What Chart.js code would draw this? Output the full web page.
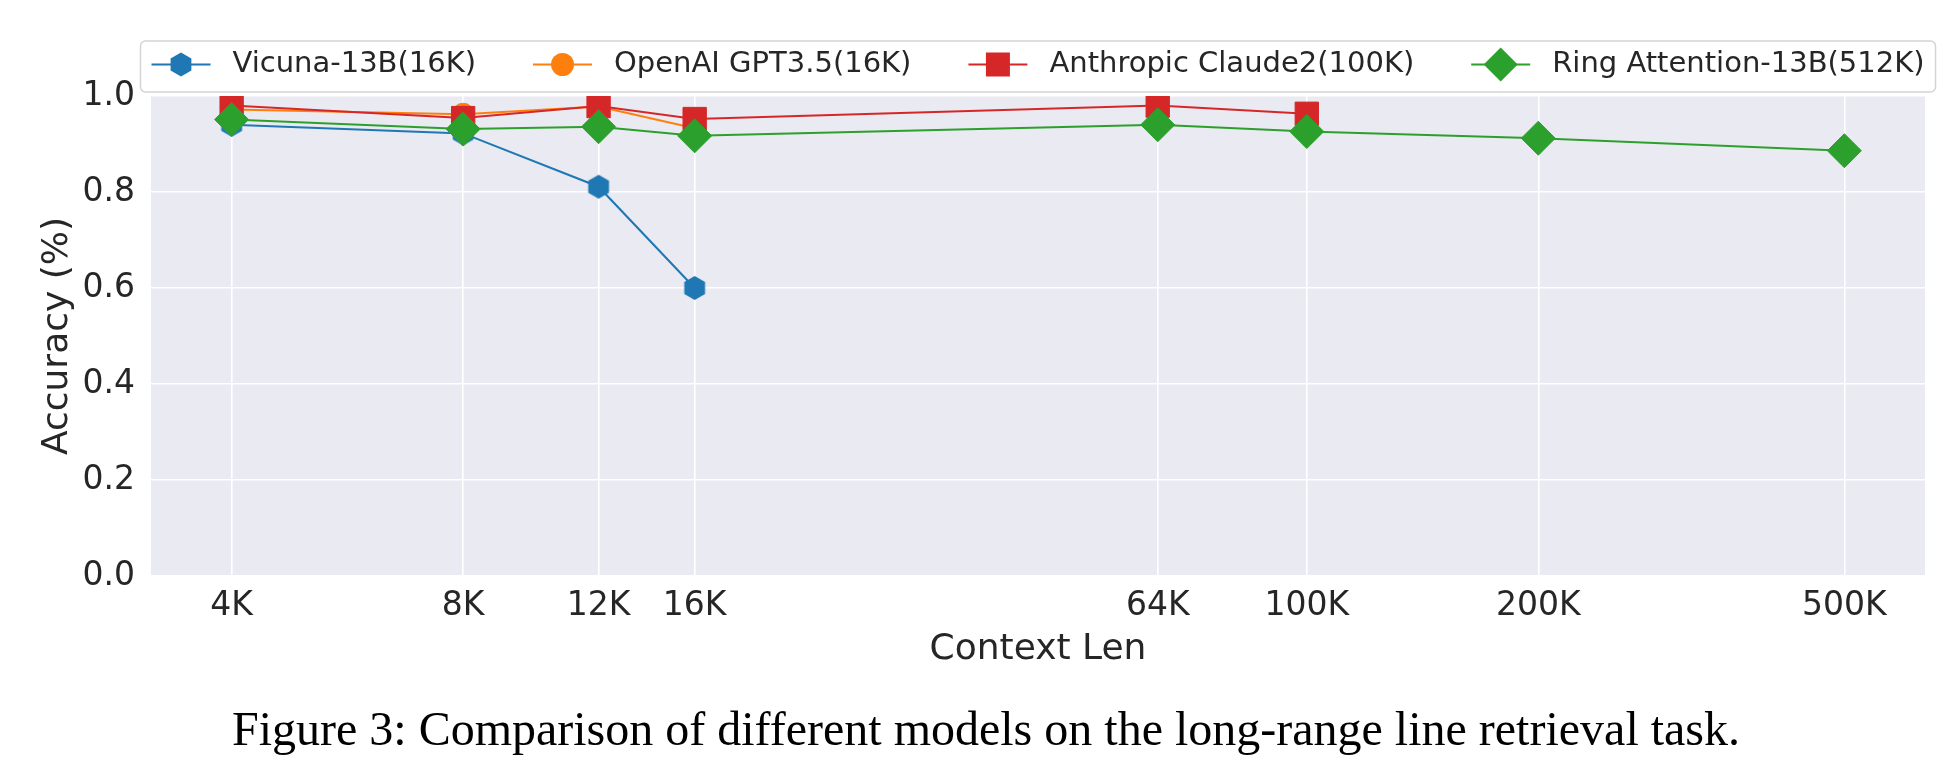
<!DOCTYPE html>
<html>
<head>
<meta charset="utf-8">
<script src="https://cdn.jsdelivr.net/npm/chart.js@4/dist/chart.umd.min.js"></script>
<style>
html, body { margin: 0; padding: 0; background: #ffffff; }
#wrap { width: 1958px; height: 776px; }
</style>
</head>
<body>
<div id="wrap"><canvas id="c" width="1958" height="776"></canvas></div>
<script>
// ---------------- data ----------------
const contextLengths = [4, 8, 12, 16, 64, 100, 200, 500];          // in K tokens
const xTickLabels = ['4K', '8K', '12K', '16K', '64K', '100K', '200K', '500K'];
const yTickValues = [0.0, 0.2, 0.4, 0.6, 0.8, 1.0];
const seriesNames = ['Vicuna-13B(16K)', 'OpenAI GPT3.5(16K)', 'Anthropic Claude2(100K)', 'Ring Attention-13B(512K)'];
const vicunaAcc = [0.940, 0.922, 0.811, 0.600];
const gptAcc = [0.972, 0.962, 0.978, 0.933];
const claudeAcc = [0.980, 0.954, 0.979, 0.952, 0.980, 0.963];
const ringAcc = [0.951, 0.931, 0.936, 0.917, 0.940, 0.926, 0.912, 0.886];
const xAxisTitle = 'Context Len';
const yAxisTitle = 'Accuracy (%)';
const captionText = 'Figure 3: Comparison of different models on the long-range line retrieval task.';

// ---------------- styles ----------------
const seriesColors = ['#1f77b4', '#ff7f0e', '#d62728', '#2ca02c'];
const markerKinds = ['hexagon', 'circle', 'square', 'diamond'];
const textColor = '#262626';
const FONT = '"DejaVu Sans", sans-serif';

function hexPath(ctx, cx, cy, r) {
  ctx.beginPath();
  for (let i = 0; i < 6; i++) {
    const a = -Math.PI / 2 + i * Math.PI / 3;
    const px = cx + r * Math.cos(a), py = cy + r * Math.sin(a);
    if (i === 0) ctx.moveTo(px, py); else ctx.lineTo(px, py);
  }
  ctx.closePath();
}
function makeHexagon(r, color) {
  const size = 26;
  const c = document.createElement('canvas');
  c.width = size; c.height = size;
  const ctx = c.getContext('2d');
  hexPath(ctx, size / 2, size / 2, r);
  ctx.fillStyle = color;
  ctx.fill();
  return c;
}
const hexImg = makeHexagon(12, seriesColors[0]);

function drawMarker(ctx, kind, x, y, color) {
  ctx.fillStyle = color;
  ctx.beginPath();
  if (kind === 'hexagon') { hexPath(ctx, x, y, 12); }
  else if (kind === 'circle') { ctx.arc(x, y, 11.5, 0, Math.PI * 2); }
  else if (kind === 'square') { ctx.rect(x - 12, y - 12, 24, 24); }
  else if (kind === 'diamond') { ctx.moveTo(x, y - 17); ctx.lineTo(x + 17, y); ctx.lineTo(x, y + 17); ctx.lineTo(x - 17, y); ctx.closePath(); }
  ctx.fill();
}

function pts(vals) { return vals.map((v, i) => ({ x: contextLengths[i], y: v })); }

const spanRatio = contextLengths[contextLengths.length - 1] / contextLengths[0];
const xMin = contextLengths[0] / Math.pow(spanRatio, 0.05);
const xMax = contextLengths[contextLengths.length - 1] * Math.pow(spanRatio, 0.05);

// ---------------- plugins ----------------
const bgPlugin = {
  id: 'bg',
  beforeDraw(chart) {
    const { ctx, chartArea: a } = chart;
    ctx.save();
    ctx.fillStyle = '#ffffff';
    ctx.fillRect(0, 0, chart.width, chart.height);
    ctx.fillStyle = '#eaeaf2';
    ctx.fillRect(a.left, a.top, a.right - a.left, a.bottom - a.top);
    ctx.restore();
  }
};

function roundRect(ctx, x, y, w, h, r) {
  ctx.beginPath();
  ctx.moveTo(x + r, y);
  ctx.lineTo(x + w - r, y);
  ctx.arcTo(x + w, y, x + w, y + r, r);
  ctx.lineTo(x + w, y + h - r);
  ctx.arcTo(x + w, y + h, x + w - r, y + h, r);
  ctx.lineTo(x + r, y + h);
  ctx.arcTo(x, y + h, x, y + h - r, r);
  ctx.lineTo(x, y + r);
  ctx.arcTo(x, y, x + r, y, r);
  ctx.closePath();
}

const legendPlugin = {
  id: 'frameLegend',
  afterDraw(chart) {
    const ctx = chart.ctx, area = chart.chartArea;
    ctx.save();
    ctx.font = '29px ' + FONT;
    const lineLen = 59, textGap = 22, itemGap = 57, margin = 11;
    const widths = seriesNames.map(n => lineLen + textGap + ctx.measureText(n).width);
    const total = widths.reduce((a, b) => a + b, 0) + itemGap * (widths.length - 1);
    let x = (area.left + area.right) / 2 - total / 2;
    const frameTop = area.top - 55, frameBottom = area.top - 4;
    const cy = area.top - 31.5;
    roundRect(ctx, x - margin, frameTop, total + 2 * margin, frameBottom - frameTop, 5);
    ctx.fillStyle = 'rgba(255,255,255,0.85)';
    ctx.fill();
    ctx.strokeStyle = '#d4d4d4';
    ctx.lineWidth = 1.5;
    ctx.stroke();
    seriesNames.forEach((name, i) => {
      ctx.strokeStyle = seriesColors[i];
      ctx.lineWidth = 2;
      ctx.beginPath();
      ctx.moveTo(x, cy);
      ctx.lineTo(x + lineLen, cy);
      ctx.stroke();
      drawMarker(ctx, markerKinds[i], x + lineLen / 2, cy, seriesColors[i]);
      ctx.fillStyle = textColor;
      ctx.textBaseline = 'middle';
      ctx.textAlign = 'left';
      ctx.fillText(name, x + lineLen + textGap, cy);
      x += widths[i] + itemGap;
    });
    ctx.restore();
  }
};

// ---------------- chart ----------------
function ds(i, vals, style, radius, order) {
  return {
    label: seriesNames[i],
    data: pts(vals),
    borderColor: seriesColors[i],
    backgroundColor: seriesColors[i],
    pointBackgroundColor: seriesColors[i],
    pointBorderColor: seriesColors[i],
    pointBorderWidth: 1,
    borderWidth: 2,
    pointStyle: style,
    pointRadius: radius,
    pointHoverRadius: radius,
    tension: 0,
    fill: false,
    order: order
  };
}

new Chart(document.getElementById('c'), {
  type: 'line',
  data: {
    datasets: [
      ds(0, vicunaAcc, hexImg, 12, 4),
      ds(1, gptAcc, 'circle', 11, 3),
      ds(2, claudeAcc, 'rect', 16.5, 2),
      ds(3, ringAcc, 'rectRot', 17, 1)
    ]
  },
  options: {
    responsive: false,
    animation: false,
    devicePixelRatio: 1,
    layout: { padding: { left: 47, right: 33, top: 96, bottom: 0 } },
    plugins: {
      legend: { display: false },
      tooltip: { enabled: false },
      title: {
        display: true,
        position: 'bottom',
        text: captionText,
        color: '#000000',
        font: { family: '"Liberation Serif", "Times New Roman", serif', size: 48, weight: 'normal', lineHeight: 1.2 },
        padding: { top: 0, bottom: 15 }
      }
    },
    scales: {
      x: {
        type: 'logarithmic',
        position: 'bottom',
        min: xMin,
        max: xMax,
        bounds: 'data',
        afterBuildTicks: s => { s.ticks = contextLengths.map(v => ({ value: v })); },
        afterFit: s => { s.height = 127.4; },
        ticks: {
          autoSkip: false, maxRotation: 0, minRotation: 0, padding: 11,
          color: textColor,
          font: { family: FONT, size: 33 },
          callback: (v, i) => xTickLabels[i]
        },
        grid: { color: '#ffffff', lineWidth: 1.6, drawTicks: false },
        border: { display: false },
        title: {
          display: true, text: xAxisTitle, color: textColor,
          font: { family: FONT, size: 36 },
          padding: { top: 0, bottom: 32.3 }
        }
      },
      y: {
        type: 'linear',
        min: yTickValues[0],
        max: yTickValues[yTickValues.length - 1],
        afterBuildTicks: s => { s.ticks = yTickValues.map(v => ({ value: v })); },
        afterFit: s => { s.width = 104; },
        ticks: {
          padding: 16, color: textColor,
          font: { family: FONT, size: 33 },
          callback: v => Number(v).toFixed(1)
        },
        grid: { color: '#ffffff', lineWidth: 1.6, drawTicks: false },
        border: { display: false },
        title: {
          display: true, text: yAxisTitle, color: textColor,
          font: { family: FONT, size: 36 },
          padding: { top: -11, bottom: 0 }
        }
      }
    }
  },
  plugins: [bgPlugin, legendPlugin]
});
</script>
</body>
</html>
